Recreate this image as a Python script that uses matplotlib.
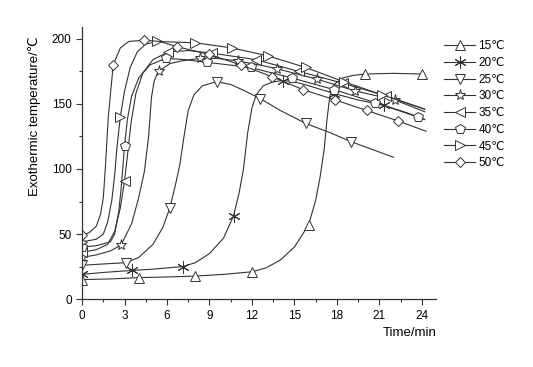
import matplotlib
matplotlib.use("Agg")
import matplotlib.pyplot as plt
from matplotlib.ticker import MultipleLocator

plt.rcParams['font.family'] = ['Liberation Sans', 'DejaVu Sans']

# readings (time in min, temperature in degC)
t15 = [0, 2, 4, 6, 8, 10, 12, 13, 14, 15, 16, 16.5, 16.8, 17.1, 17.3, 17.5, 17.8, 18.4, 19.2, 20, 22, 24]
T15 = [15, 15.5, 16.5, 17, 17.7, 19, 21, 24, 30, 40, 57, 76, 93, 115, 138, 156, 165, 170, 172, 173, 173.5, 173]
m15 = [0, 2, 4, 6, 10, 19, 21]

t20 = [0, 1.5, 3.5, 5, 7.1, 8, 9, 10, 10.7, 11.1, 11.4, 11.7, 12.0, 12.3, 12.8, 13.5, 14.2, 15, 16, 17.8, 19.5, 21.3, 23, 24.2]
T20 = [19, 20.5, 22, 23, 25, 28, 35, 47, 64, 82, 100, 128, 147, 157, 164, 167, 168, 167, 164, 158, 153, 149, 143, 138]
m20 = [0, 2, 4, 8, 16, 19, 21]

t25 = [0, 1.5, 3.1, 4, 5, 5.7, 6.2, 6.6, 6.9, 7.2, 7.5, 7.9, 8.5, 9.5, 10.5, 11.5, 12.6, 14, 15.8, 17.5, 19, 20.5, 22]
T25 = [26, 27, 28, 32, 42, 55, 70, 88, 103, 125, 145, 157, 164, 167, 165, 160, 154, 145, 135, 128, 121, 115, 109]
m25 = [0, 2, 6, 13, 16, 18, 20]

t30 = [0, 1, 2, 2.75, 3.5, 4.0, 4.4, 4.7, 4.9, 5.1, 5.4, 6.2, 7, 8.3, 9.5, 11.0, 12.5, 13.8, 16.6, 19.3, 22.1, 24.2]
T30 = [32, 34, 37, 41.5, 58, 78, 98, 125, 155, 168, 175, 181, 183, 185, 185, 183, 180, 177, 169, 160, 153, 144]
m30 = [0, 3, 10, 13, 15, 17, 18, 19, 20]

t35 = [0, 1, 1.8, 2.3, 2.7, 3.0, 3.2, 3.45, 3.8, 4.3, 5.0, 6.1, 7.5, 9.2, 12.3, 15.3, 18.4, 21.5, 24.2]
T35 = [36, 38, 42, 52, 70, 91, 110, 135, 158, 174, 184, 190, 191, 189, 184, 175, 166, 156, 146]
m35 = [0, 5, 11, 13, 14, 15, 16, 17]

t40 = [0, 1, 2, 2.3, 2.6, 2.8, 3.0, 3.2, 3.5, 4.0, 4.8, 5.9, 7.3, 8.8, 11.9, 14.8, 17.8, 20.7, 23.7, 24.2]
T40 = [40, 41, 44, 50, 68, 90, 118, 138, 156, 170, 180, 185, 184, 182, 178, 170, 161, 151, 140, 138]
m40 = [0, 6, 11, 13, 14, 15, 16, 17, 18]

t45 = [0, 1.0, 1.5, 1.8, 2.1, 2.3, 2.45, 2.7, 3.0, 3.4, 3.9, 4.5, 5.3, 8.0, 10.6, 13.1, 15.8, 18.5, 21.2, 24.2]
T45 = [44, 46, 50, 59, 76, 95, 115, 140, 160, 178, 190, 196, 198, 197, 193, 187, 178, 167, 157, 146]
m45 = [0, 7, 12, 13, 14, 15, 16, 17, 18]

t50 = [0, 0.5, 1.0, 1.3, 1.5, 1.65, 1.85, 2.2, 2.7, 3.3, 4.4, 5.5, 6.7, 9.0, 11.2, 13.4, 15.6, 17.9, 20.1, 22.3, 24.3]
T50 = [49, 51, 56, 65, 78, 102, 140, 180, 193, 198, 199, 198, 194, 188, 180, 171, 161, 153, 145, 137, 129]
m50 = [0, 7, 10, 12, 13, 14, 15, 16, 17, 18, 19]

labels = ['15℃', '20℃', '25℃', '30℃', '35℃', '40℃', '45℃', '50℃']

series = [(t15, T15, m15, '^', 7), (t20, T20, m20, (6, 2, 0), 9), (t25, T25, m25, 'v', 7),
          (t30, T30, m30, '*', 8), (t35, T35, m35, '<', 7), (t40, T40, m40, 'p', 7),
          (t45, T45, m45, '>', 7), (t50, T50, m50, 'D', 5.5)]

fig = plt.figure(figsize=(5.33, 3.67), dpi=100)
ax = fig.add_axes([0.154, 0.185, 0.664, 0.741])

col = '#333333'
for (t, T, m, mk, ms), lab in zip(series, labels):
    ax.plot(t, T, color=col, lw=0.8, marker=mk, markevery=m, ms=ms,
            mfc='white', mec=col, mew=0.7, label=lab)

ax.set_xlim(0, 25)
ax.set_ylim(0, 209)
ax.xaxis.set_major_locator(MultipleLocator(3))
ax.xaxis.set_minor_locator(MultipleLocator(1.5))
ax.yaxis.set_major_locator(MultipleLocator(50))
ax.yaxis.set_minor_locator(MultipleLocator(25))
for s in ['top', 'right']:
    ax.spines[s].set_visible(False)
for s in ['left', 'bottom']:
    ax.spines[s].set_color(col)
    ax.spines[s].set_linewidth(0.9)
ax.tick_params(which='major', direction='out', length=4, width=0.8, color=col, labelsize=8.5)
ax.tick_params(which='minor', direction='out', length=2.5, width=0.8, color=col)

fig.text(35 / 533, 1 - 116 / 367, 'Exothermic temperature/℃', rotation=90,
         ha='center', va='center', fontsize=9.5)
fig.text(410 / 533, 1 - 333 / 367, 'Time/min', ha='center', va='center', fontsize=9.5)

ax.legend(loc='upper left', bbox_to_anchor=(436 / 533, 1 - 32 / 367),
          bbox_transform=fig.transFigure, frameon=False, fontsize=8.5,
          handlelength=2.6, handletextpad=0.3, labelspacing=0.4, borderpad=0.2)

fig.savefig('out.png', dpi=100)
